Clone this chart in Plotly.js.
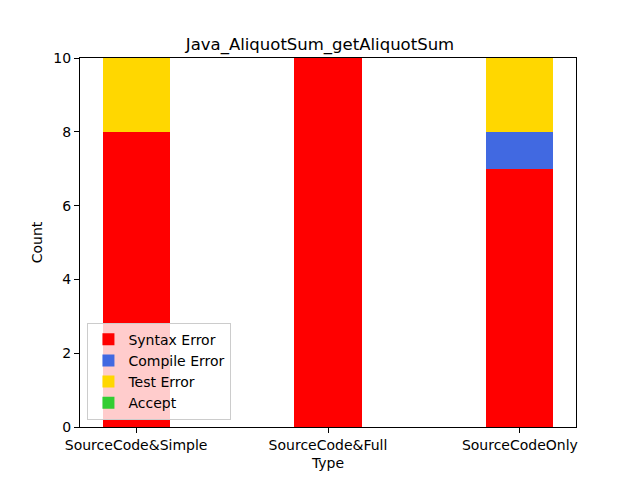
<!DOCTYPE html>
<html><head><meta charset="utf-8">
<script src="https://cdn.plot.ly/plotly-3.0.1.min.js"></script>
<style>html,body{margin:0;padding:0;background:#fff}#plot{width:640px;height:480px}</style>
</head><body><div id="plot"></div>
<script>
const categories = ["SourceCode&Simple", "SourceCode&Full", "SourceCodeOnly"];
const syntaxError = [8, 10, 7];
const compileError = [0, 0, 1];
const testError = [2, 0, 2];
const accept = [0, 0, 0];
const seriesNames = ["Syntax Error", "Compile Error", "Test Error", "Accept"];
const seriesColors = ["#ff0000", "#4169e1", "#ffd700", "#32cd32"];
const seriesValues = [syntaxError, compileError, testError, accept];

const xIdx = categories.map((c, i) => i);
const traces = seriesValues.map((vals, k) => ({
  type: "bar", x: xIdx, y: vals, name: seriesNames[k],
  width: 0.35, marker: {color: seriesColors[k], line: {width: 0}}
}));
const font = {family: "DejaVu Sans", size: 14, color: "#000"};
Plotly.newPlot("plot", traces, {
  width: 640, height: 480, barmode: "stack", font: font,
  paper_bgcolor: "#fff", plot_bgcolor: "#fff",
  margin: {l: 80, r: 64, t: 58, b: 53},
  title: {text: "Java_AliquotSum_getAliquotSum", font: {family: "DejaVu Sans", size: 16.5, color: "#000"}, x: 0.5, xanchor: "center", y: 1 - 44/480, yanchor: "middle"},
  xaxis: {range: [-0.2925, 2.2925], tickvals: xIdx, ticktext: categories, ticks: "outside", ticklen: 5, tickcolor: "#000",
    showline: true, mirror: true, linecolor: "#000", linewidth: 1, showgrid: false, zeroline: false,
    title: {text: "Type", font: font, standoff: 6}},
  yaxis: {range: [0, 10], tickvals: [0, 2, 4, 6, 8, 10], ticks: "outside", ticklen: 5, tickcolor: "#000",
    showline: true, mirror: true, linecolor: "#000", linewidth: 1, showgrid: false, zeroline: false,
    title: {text: "Count", font: font, standoff: 7}},
  legend: {x: 0.015, y: 0.02, xanchor: "left", yanchor: "bottom", traceorder: "normal",
    bgcolor: "rgba(255,255,255,0.8)", bordercolor: "#cccccc", borderwidth: 1, font: font},
  showlegend: true
}, {displayModeBar: false});
</script></body></html>
